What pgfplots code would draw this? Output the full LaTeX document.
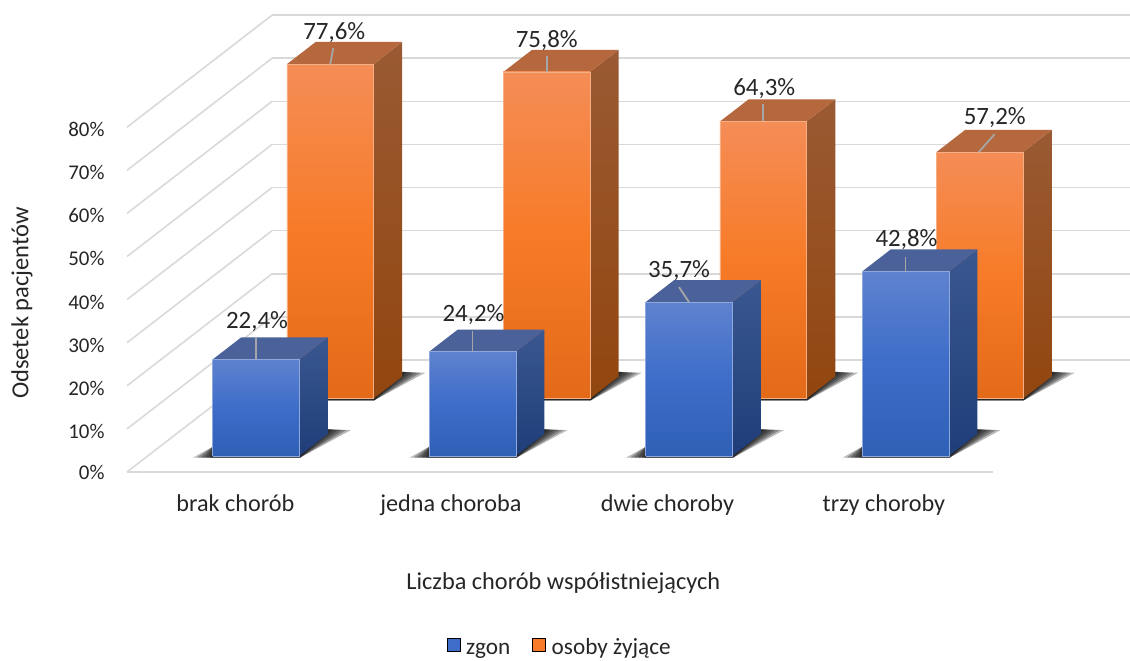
\documentclass[border=0pt]{standalone}
\usepackage{fontspec}
\setmainfont{Carlito}
\usepackage{pgfplots}
\pgfplotsset{compat=1.18}
\definecolor{txt}{HTML}{262626}
\definecolor{gridc}{HTML}{D9D9D9}
\definecolor{leader}{HTML}{A6A6A6}
\definecolor{bT}{HTML}{5F82CF}\definecolor{bM}{HTML}{3D6DC8}\definecolor{bB}{HTML}{2F60B6}\definecolor{bE}{HTML}{8FA8DC}
\definecolor{bTop}{HTML}{4A6299}\definecolor{bS1}{HTML}{3A5790}\definecolor{bS2}{HTML}{1F3D78}
\definecolor{oT}{HTML}{F58D57}\definecolor{oM}{HTML}{F77B27}\definecolor{oB}{HTML}{E36A19}\definecolor{oE}{HTML}{F6AE84}
\definecolor{oTop}{HTML}{B5673D}\definecolor{oS1}{HTML}{9A5A33}\definecolor{oS2}{HTML}{92460F}
% one 3-D column: #1 category position, #2 front depth, #3 back depth, #4 value, #5 colour prefix
\newcommand{\column}[5]{%
  \pgfmathsetmacro{\xl}{#1-0.2}\pgfmathsetmacro{\xr}{#1+0.2}%
  \addplot3[forget plot,draw=none,shade,top color=#5S1,bottom color=#5S2]
    coordinates {(\xr,#2,0)(\xr,#3,0)(\xr,#3,#4)(\xr,#2,#4)};
  \addplot3[forget plot,draw=none,fill=#5Top]
    coordinates {(\xl,#2,#4)(\xr,#2,#4)(\xr,#3,#4)(\xl,#3,#4)};
  \addplot3[forget plot,draw=#5E,line width=0.4bp,shade,top color=#5T,bottom color=#5B,middle color=#5M]
    coordinates {(\xl,#2,0)(\xr,#2,0)(\xr,#2,#4)(\xl,#2,#4)(\xl,#2,0)};
}
% floor shadow, layers in pixels around the column's front centre
\newcommand{\shadowlayer}[3]{%
  \pgfmathsetmacro{\sa}{#1+(-43-20*#3)/216.5}\pgfmathsetmacro{\sb}{#1-43/216.5}
  \pgfmathsetmacro{\sc}{#1+73/216.5}\pgfmathsetmacro{\sd}{#1+(73+22*#3)/216.5}
  \pgfmathsetmacro{\se}{#1+44/216.5}
  \addplot3[forget plot,draw=none,fill=black,fill opacity=0.27]
    coordinates {(\sa,#2,-0.4)(\sb,#2,2.2)(\sc,#2,6.2)(\sd,#2,6.0)(\se,#2,-0.4)};
}
\newcommand{\shadow}[2]{\shadowlayer{#1}{#2}{1}\shadowlayer{#1}{#2}{0.8}\shadowlayer{#1}{#2}{0.6}\shadowlayer{#1}{#2}{0.4}\shadowlayer{#1}{#2}{0.2}\shadowlayer{#1}{#2}{0.05}}
% leader and data label: #1 pos, #2 depth, #3 value, #4 start dx px, #5 end dx px, #6 end dy px, #7 label dx, #8 label dy, #9 text
\newcommand{\leaderlabel}[9]{%
  \pgfmathsetmacro{\la}{#1+#4/216.5}\pgfmathsetmacro{\lb}{#1+#5/216.5}\pgfmathsetmacro{\lz}{#3+#6/4.31}%
  \addplot3[forget plot,draw=leader,line width=1.8bp]
    coordinates {(\la,#2,#3)(\lb,#2,\lz)} node[pos=1,anchor=center,xshift=#7bp,yshift=#8bp,text=txt,font=\fontsize{25}{27}\selectfont,inner sep=0pt] {#9};
}
\begin{document}
\begin{tikzpicture}[x=1bp,y=1bp]
\useasboundingbox (0,0) rectangle (1130,661);
\begin{axis}[
  at={(127bp,189bp)},anchor=south west,
  x={(216.5bp,0bp)},y={(145bp,112bp)},z={(0bp,4.31bp)},
  xmin=-0.5,xmax=3.5,ymin=0,ymax=1,zmin=0,zmax=80,
  clip=false,
  axis line style={draw=none},
  major tick length=0pt,
  xtick={0,1,2,3},
  xticklabels={brak chorób,jedna choroba,dwie choroby,trzy choroby},
  ytick=\empty,
  ztick={0,10,20,30,40,50,60,70,80},
  zticklabels={0\%,10\%,20\%,30\%,40\%,50\%,60\%,70\%,80\%},
  zmajorgrids=true,xmajorgrids=false,ymajorgrids=false,
  major grid style={draw=gridc,line width=1.6bp},
  xticklabel style={xshift=6bp,yshift=-19bp,text=txt,font=\fontsize{24.3}{26}\selectfont},
  zticklabel style={xshift=-19bp,yshift=5bp,text=txt,font=\fontsize{21}{24}\selectfont},
  xlabel={Liczba chorób współistniejących},
  xlabel style={at={(axis description cs:0.4315,-0.243)},anchor=center,text=txt,font=\fontsize{24.4}{26}\selectfont},
  zlabel={Odsetek pacjentów},
  zlabel style={at={(axis description cs:-0.104,0.37)},anchor=center,rotate=0,text=txt,font=\fontsize{24.6}{26}\selectfont},
  legend style={at={(axis description cs:0.428,-0.389)},anchor=center,draw=none,fill=none,
    legend columns=2,font=\fontsize{23.3}{25}\selectfont,text=txt,
    nodes={text height=12bp,text depth=5bp},
    /tikz/every even column/.append style={column sep=20bp},
    /tikz/every odd column/.append style={column sep=4bp}},
  legend image code/.code={\fill[#1] (0bp,-1bp) rectangle (13bp,12bp);},
]
\addlegendimage{fill=bM}
\addlegendimage{fill=oM}
\addlegendentry{zgon}
\addlegendentry{osoby żyjące}
\addplot3[forget plot,draw=gridc,line width=1.6bp] coordinates {(-0.5,0,0)(3.5,0,0)};
% osoby żyjące
\shadow{0}{0.655}\shadow{1}{0.655}\shadow{2}{0.655}\shadow{3}{0.655}
\column{0}{0.655}{0.853}{77.6}{o}
\column{1}{0.655}{0.853}{75.8}{o}
\column{2}{0.655}{0.853}{64.3}{o}
\column{3}{0.655}{0.853}{57.2}{o}
\leaderlabel{0}{0.655}{77.6}{0}{3}{16}{1}{16}{77,6\%}
\leaderlabel{1}{0.655}{75.8}{0}{0}{16}{0}{15}{75,8\%}
\leaderlabel{2}{0.655}{64.3}{0}{0}{17}{1}{16}{64,3\%}
\leaderlabel{3}{0.655}{57.2}{-1}{15}{18}{0}{16}{57,2\%}
% zgon
\shadow{0}{0.143}\shadow{1}{0.143}\shadow{2}{0.143}\shadow{3}{0.143}
\column{0}{0.143}{0.34}{22.4}{b}
\column{1}{0.143}{0.34}{24.2}{b}
\column{2}{0.143}{0.34}{35.7}{b}
\column{3}{0.143}{0.34}{42.8}{b}
\leaderlabel{0}{0.143}{22.4}{0}{0}{21}{1}{17}{22,4\%}
\leaderlabel{1}{0.143}{24.2}{0}{0}{21}{1}{16}{24,2\%}
\leaderlabel{2}{0.143}{35.7}{0}{-10}{15}{0}{17}{35,7\%}
\leaderlabel{3}{0.143}{42.8}{0}{0}{15}{1}{17}{42,8\%}
\end{axis}
\end{tikzpicture}
\end{document}
